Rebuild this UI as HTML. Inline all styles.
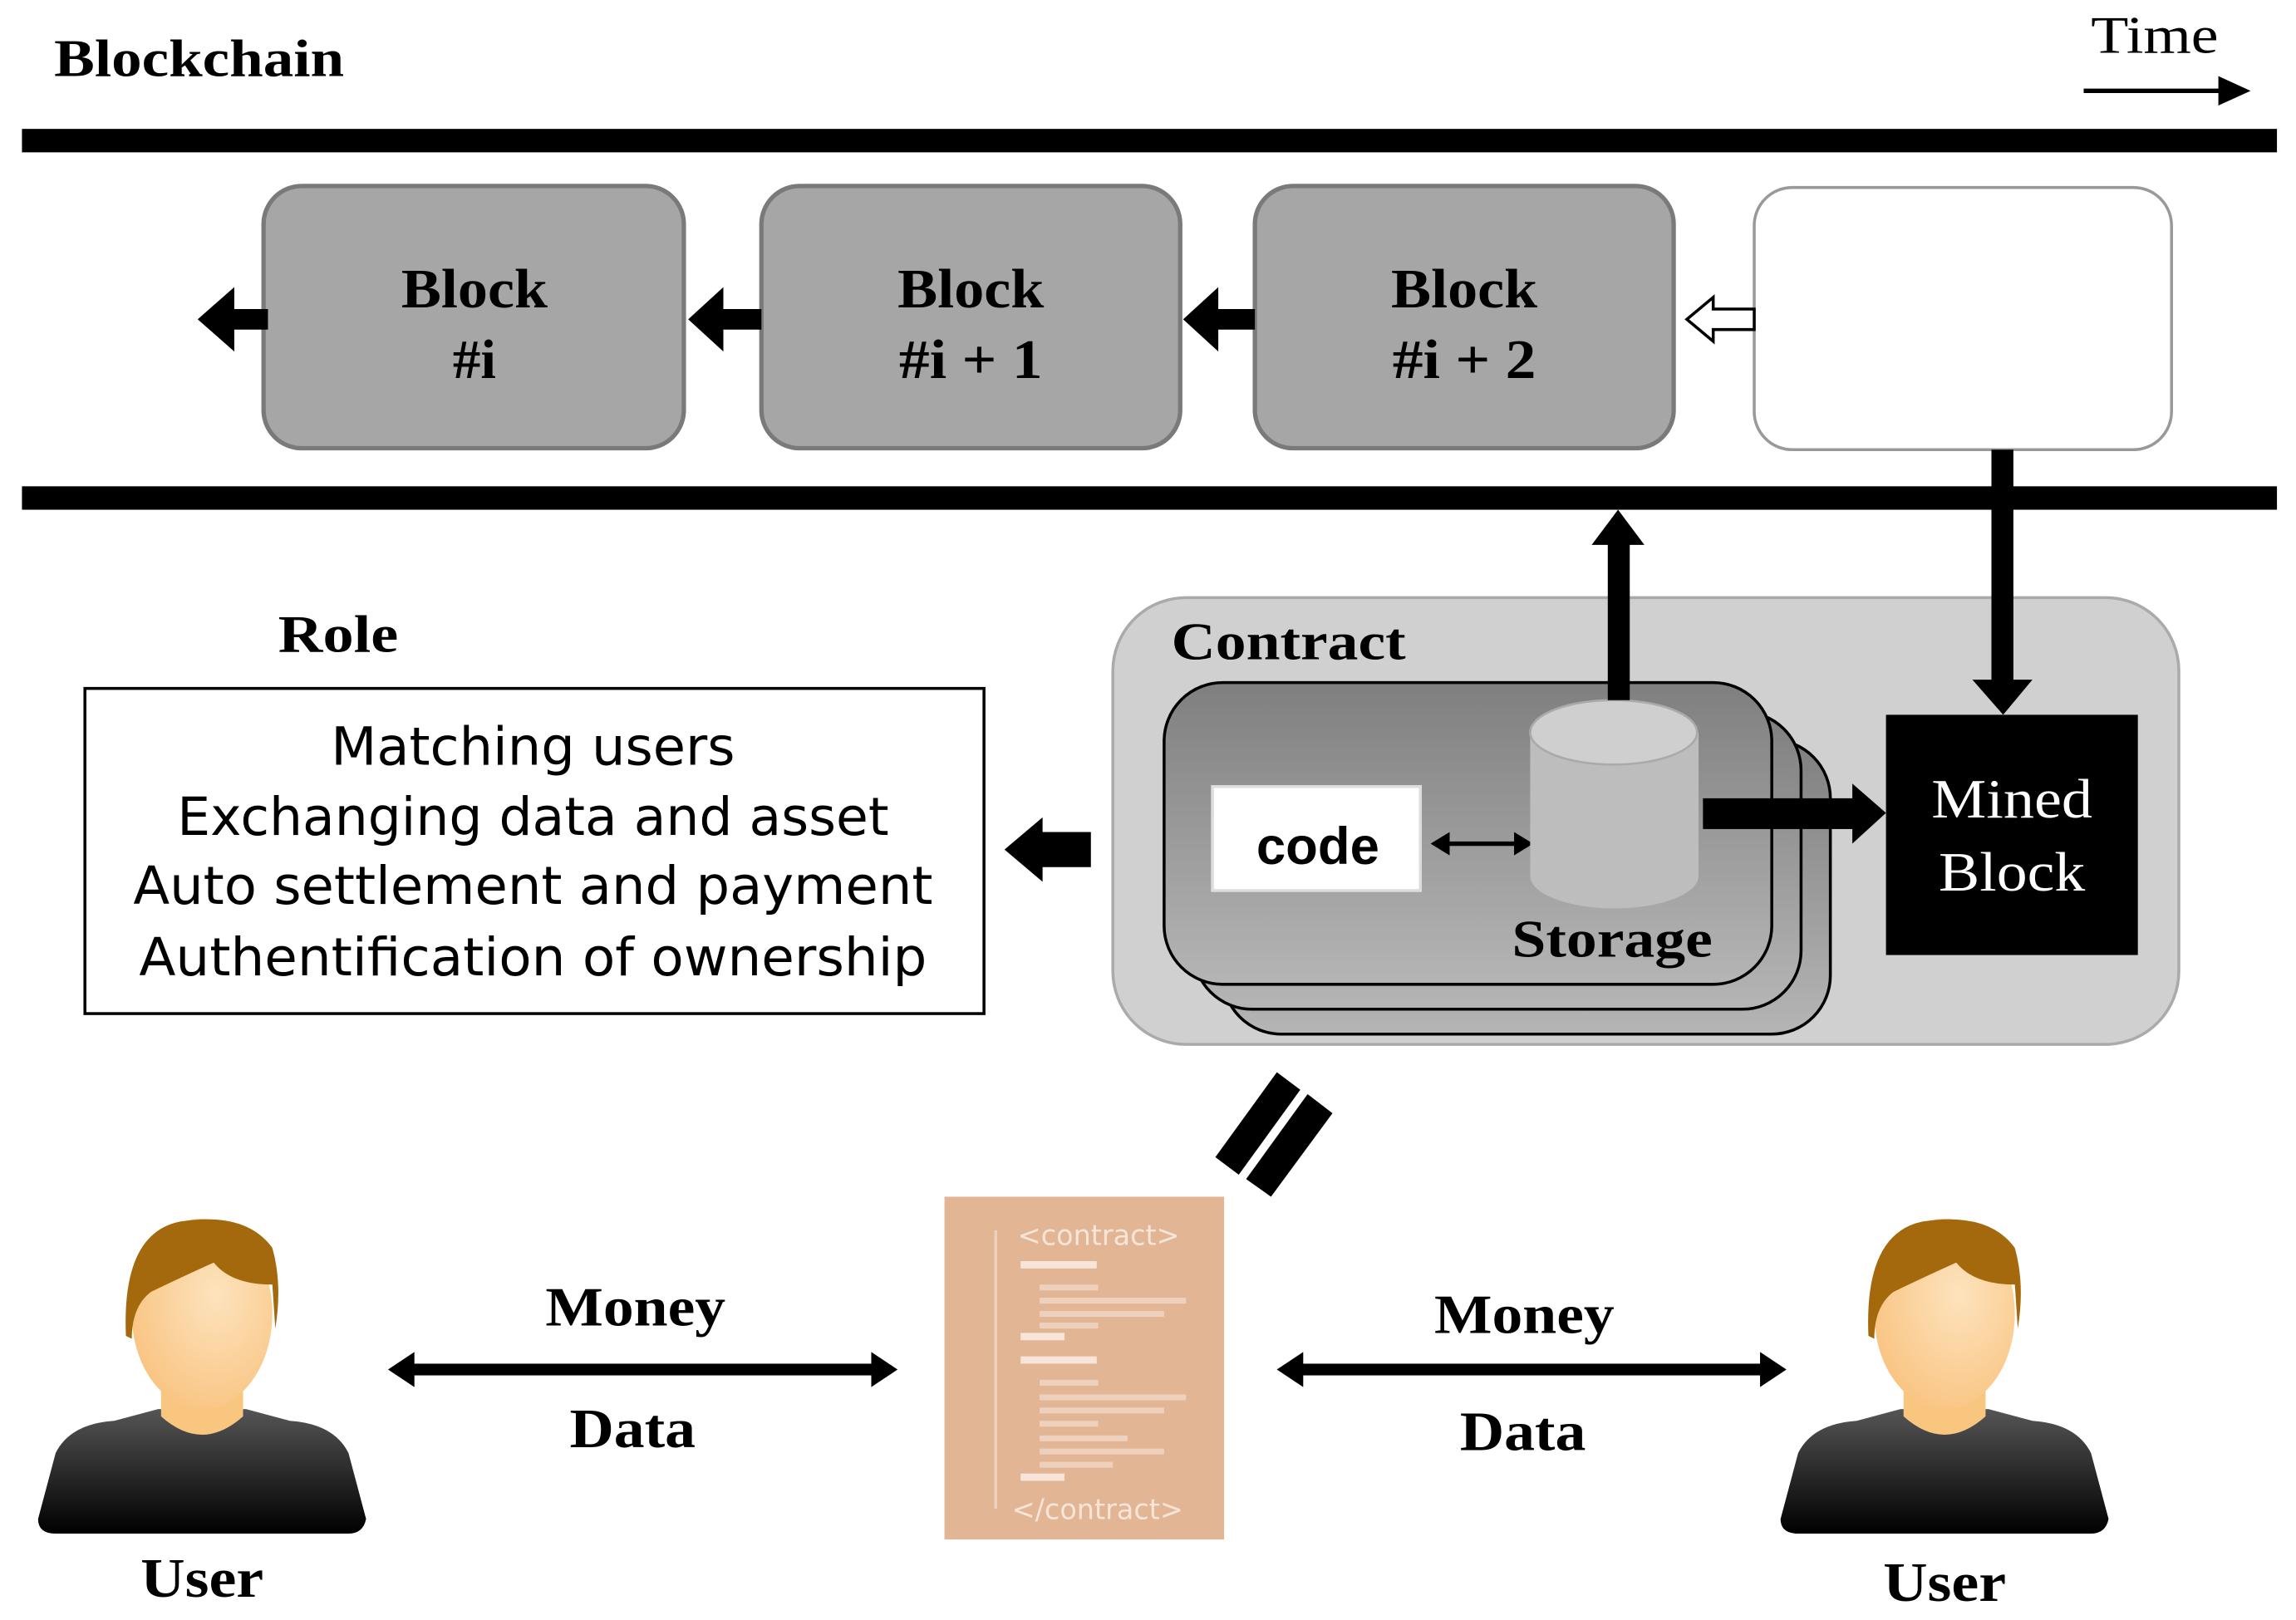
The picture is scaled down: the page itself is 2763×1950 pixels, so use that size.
<!DOCTYPE html>
<html><head><meta charset="utf-8"><style>html,body{margin:0;padding:0;background:#fff}svg{display:block}</style></head><body>
<svg width="2763" height="1950" viewBox="0 0 1568 1106" preserveAspectRatio="none" xmlns="http://www.w3.org/2000/svg">
<defs>
<linearGradient id="card" x1="0" y1="0" x2="0" y2="1"><stop offset="0" stop-color="#7f7f7f"/><stop offset="1" stop-color="#b5b5b5"/></linearGradient>
<linearGradient id="body" x1="0" y1="0" x2="0" y2="1"><stop offset="0" stop-color="#555"/><stop offset="1" stop-color="#000"/></linearGradient>
<radialGradient id="face" cx="0.6" cy="0.4" r="0.7"><stop offset="0" stop-color="#fde3bd"/><stop offset="1" stop-color="#f9c27e"/></radialGradient>
<g id="user">
<path d="M-112,205 L-100,160 Q-90,140 -60,138 L-30,130 L30,130 L60,138 Q90,140 100,160 L112,205 Q110,215 100,215 L-100,215 Q-112,215 -112,205Z" fill="url(#body)"/>
<path d="M-28,100 L-28,135 Q0,160 28,135 L28,100Z" fill="#f9c680"/>
<ellipse cx="0" cy="65" rx="48" ry="65" fill="url(#face)"/>
<path d="M-52,80 Q-55,10 -15,2 Q30,-5 48,20 Q55,45 50,75 L48,45 Q20,45 8,30 Q-10,38 -35,50 Q-48,60 -48,82Z" fill="#a4690c"/>
</g>
</defs>
<text x="37" y="52" font-family="Liberation Serif" font-weight="bold" font-size="36" textLength="198" lengthAdjust="spacingAndGlyphs">Blockchain</text>
<text x="1428" y="36" font-family="Liberation Serif" font-size="36" textLength="87" lengthAdjust="spacingAndGlyphs">Time</text>
<line x1="1423" y1="62" x2="1518" y2="62" stroke="#000" stroke-width="3"/>
<polygon points="1515,52 1537,62 1515,72" fill="#000"/>
<rect x="15" y="88" width="1540" height="16" fill="#000"/>
<rect x="15" y="332" width="1540" height="16" fill="#000"/>
<g stroke="#7a7a7a" stroke-width="3" fill="#a6a6a6">
<rect x="180" y="127" width="287" height="179" rx="26"/>
<rect x="520" y="127" width="286" height="179" rx="26"/>
<rect x="857" y="127" width="286" height="179" rx="26"/>
</g>
<rect x="1198" y="128" width="285" height="179" rx="26" fill="#fff" stroke="#999" stroke-width="2"/>
<g font-family="Liberation Serif" font-weight="bold" font-size="38" text-anchor="middle" lengthAdjust="spacingAndGlyphs">
<text x="324" y="210" textLength="100" lengthAdjust="spacingAndGlyphs">Block</text><text x="324" y="258">#i</text>
<text x="663" y="210" textLength="100" lengthAdjust="spacingAndGlyphs">Block</text><text x="663" y="258" textLength="98" lengthAdjust="spacingAndGlyphs">#i + 1</text>
<text x="1000" y="210" textLength="100" lengthAdjust="spacingAndGlyphs">Block</text><text x="1000" y="258" textLength="98" lengthAdjust="spacingAndGlyphs">#i + 2</text>
</g>
<g fill="#000">
<polygon points="135,218 160,196 160,211 183,211 183,225 160,225 160,240"/>
<polygon points="470,218 494,196 494,211 520,211 520,225 494,225 494,240"/>
<polygon points="808,218 832,196 832,211 857,211 857,225 832,225 832,240"/>
</g>
<polygon points="1152,218 1170,203 1170,211 1198,211 1198,225 1170,225 1170,233" fill="#fff" stroke="#000" stroke-width="2"/>
<rect x="760" y="408" width="728" height="305" rx="50" fill="#d0d0d0" stroke="#aaa" stroke-width="2"/>
<text x="800" y="450" font-family="Liberation Serif" font-weight="bold" font-size="36" textLength="160" lengthAdjust="spacingAndGlyphs">Contract</text>
<g stroke="#000" stroke-width="2" fill="url(#card)">
<rect x="835" y="505" width="415" height="201" rx="40"/>
<rect x="815" y="486" width="415" height="203" rx="40"/>
<rect x="795" y="466" width="415" height="206" rx="40"/>
</g>
<rect x="828" y="537" width="142" height="71" fill="#fff" stroke="#ddd" stroke-width="2"/>
<text x="900" y="590" font-family="Liberation Sans" font-weight="bold" font-size="36" text-anchor="middle">code</text>
<line x1="988" y1="576" x2="1036" y2="576" stroke="#000" stroke-width="3"/>
<polygon points="977,576 990,568 990,584" fill="#000"/><polygon points="1047,576 1034,568 1034,584" fill="#000"/>
<path d="M1045,500 L1045,598 A57,22 0 0 0 1160,598 L1160,500Z" fill="#bdbdbd"/>
<ellipse cx="1102" cy="500" rx="57" ry="22" fill="#cfcfcf" stroke="#aaa" stroke-width="1.5"/>
<text x="1101" y="653" font-family="Liberation Serif" font-weight="bold" font-size="36" text-anchor="middle" textLength="137" lengthAdjust="spacingAndGlyphs">Storage</text>
<rect x="1098" y="370" width="15" height="108" fill="#000"/>
<polygon points="1087,372 1105,348 1123,372" fill="#000"/>
<rect x="1360" y="307" width="15" height="160" fill="#000"/>
<polygon points="1347,464 1388,464 1368,488" fill="#000"/>
<rect x="1163" y="545" width="105" height="21" fill="#000"/>
<polygon points="1265,535 1288,555 1265,576" fill="#000"/>
<rect x="1288" y="488" width="172" height="164" fill="#000"/>
<text x="1374" y="558" font-family="Liberation Serif" font-size="38" fill="#fff" text-anchor="middle" textLength="110" lengthAdjust="spacingAndGlyphs">Mined</text>
<text x="1374" y="608" font-family="Liberation Serif" font-size="38" fill="#fff" text-anchor="middle" textLength="100" lengthAdjust="spacingAndGlyphs">Block</text>
<text x="231" y="445" font-family="Liberation Serif" font-weight="bold" font-size="36" text-anchor="middle" textLength="82" lengthAdjust="spacingAndGlyphs">Role</text>
<rect x="58" y="470" width="614" height="222" fill="#fff" stroke="#000" stroke-width="2"/>
<g font-family="DejaVu Sans" font-size="36" text-anchor="middle">
<text x="364" y="522" textLength="276" lengthAdjust="spacingAndGlyphs">Matching users</text>
<text x="364" y="570" textLength="486" lengthAdjust="spacingAndGlyphs">Exchanging data and asset</text>
<text x="364" y="617" textLength="546" lengthAdjust="spacingAndGlyphs">Auto settlement and payment</text>
<text x="364" y="666" textLength="538" lengthAdjust="spacingAndGlyphs">Authentification of ownership</text>
</g>
<polygon points="686,580 712,558 712,568 745,568 745,592 712,592 712,602" fill="#000"/>
<polygon points="830,790 872,732 888,744 846,802" fill="#000"/>
<polygon points="851,805 893,747 910,760 868,817" fill="#000"/>
<rect x="645" y="817" width="191" height="234" fill="#e2b595"/>
<g fill="#f6e5d8" font-family="DejaVu Sans" font-size="19">
<text x="695" y="850">&lt;contract&gt;</text>
<text x="691" y="1037">&lt;/contract&gt;</text>
<rect x="697" y="861" width="52" height="5"/><rect x="697" y="910" width="30" height="5"/>
<rect x="697" y="926" width="52" height="5"/><rect x="697" y="1006" width="30" height="5"/>
<rect x="710" y="877" width="40" height="4" opacity=".6"/><rect x="710" y="886" width="100" height="4" opacity=".6"/><rect x="710" y="895" width="85" height="4" opacity=".6"/><rect x="710" y="903" width="40" height="4" opacity=".6"/>
<rect x="710" y="942" width="40" height="4" opacity=".6"/><rect x="710" y="952" width="100" height="4" opacity=".6"/><rect x="710" y="961" width="85" height="4" opacity=".6"/><rect x="710" y="970" width="40" height="4" opacity=".6"/><rect x="710" y="980" width="60" height="4" opacity=".6"/><rect x="710" y="989" width="85" height="4" opacity=".6"/><rect x="710" y="998" width="50" height="4" opacity=".6"/>
<rect x="679" y="840" width="2" height="190" opacity=".6"/>
</g>
<g fill="#000">
<rect x="280" y="931" width="320" height="8"/>
<polygon points="265,935 283,923 283,947"/><polygon points="613,935 595,923 595,947"/>
<rect x="887" y="931" width="318" height="8"/>
<polygon points="872,935 890,923 890,947"/><polygon points="1220,935 1202,923 1202,947"/>
</g>
<g font-family="Liberation Serif" font-weight="bold" font-size="38" text-anchor="middle">
<text x="434" y="905" textLength="123" lengthAdjust="spacingAndGlyphs">Money</text><text x="432" y="988" textLength="86" lengthAdjust="spacingAndGlyphs">Data</text>
<text x="1041" y="910" textLength="123" lengthAdjust="spacingAndGlyphs">Money</text><text x="1040" y="990" textLength="86" lengthAdjust="spacingAndGlyphs">Data</text>
<text x="138" y="1090" textLength="84" lengthAdjust="spacingAndGlyphs">User</text><text x="1328" y="1093" textLength="84" lengthAdjust="spacingAndGlyphs">User</text>
</g>
<use href="#user" transform="translate(138,832)"/>
<use href="#user" transform="translate(1328,832)"/>
</svg>
</body></html>
